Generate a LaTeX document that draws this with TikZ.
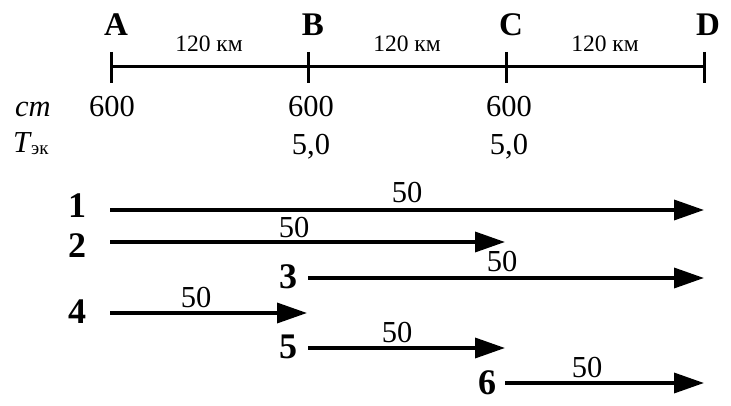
\documentclass[tikz,border=0pt]{standalone}
\usepackage{fontspec}
\setmainfont{Liberation Serif}
\usetikzlibrary{arrows.meta}
\begin{document}
\begin{tikzpicture}[x=1pt,y=-1pt,
  stn/.style={font=\fontsize{33}{33}\selectfont\bfseries, anchor=base, inner sep=0},
  dist/.style={font=\fontsize{23.5}{24}\selectfont, anchor=base, inner sep=0},
  val/.style={font=\fontsize{30.5}{31}\selectfont, anchor=base, inner sep=0},
  num/.style={font=\fontsize{36}{36}\selectfont\bfseries, anchor=base, inner sep=0},
  axisline/.style={line width=3pt},
  train/.style={line width=3.5pt, -{Triangle[length=30pt,width=20pt]}}]
\useasboundingbox (0,0) rectangle (731,406);
% axis
\coordinate (pA) at (111,67);
\coordinate (pB) at (308,67);
\coordinate (pC) at (506,67);
\coordinate (pD) at (704,67);
\draw[axisline] (pA) -- (pD);
\draw[axisline] (111,52) -- (111,83);
\draw[axisline] (308,52) -- (308,83);
\draw[axisline] (506,52) -- (506,83);
\draw[axisline] (704,52) -- (704,83);
% station letters
\node[stn] (lA) at (116,36) {A};
\node[stn] (lB) at (313,36) {B};
\node[stn] (lC) at (511,36) {C};
\node[stn] (lD) at (708,36) {D};
% distances
\node[dist] (d1) at (209,52) {120 км};
\node[dist] (d2) at (407,52) {120 км};
\node[dist] (d3) at (605,52) {120 км};
% rows
\node[val, anchor=base west] (ct) at (15,117) {\itshape ст};
\node[val] (c1) at (112,117) {600};
\node[val] (c2) at (311,117) {600};
\node[val] (c3) at (509,117) {600};
\node[val, anchor=base west] (tek) at (13,153) {\itshape T\kern1pt{\fontsize{19}{19}\selectfont\upshape\raisebox{-2pt}{эк}}};
\node[val] (t2) at (311,155) {5,0};
\node[val] (t3) at (509,155) {5,0};
% trains
\coordinate (s1) at (110,210); \coordinate (e1) at (704,210);
\coordinate (s2) at (110,242); \coordinate (e2) at (505,242);
\coordinate (s3) at (308,278); \coordinate (e3) at (704,278);
\coordinate (s4) at (110,313); \coordinate (e4) at (307,313);
\coordinate (s5) at (308,348); \coordinate (e5) at (505,348);
\coordinate (s6) at (505,383); \coordinate (e6) at (704,383);
\draw[train] (s1) -- (e1);
\draw[train] (s2) -- (e2);
\draw[train] (s3) -- (e3);
\draw[train] (s4) -- (e4);
\draw[train] (s5) -- (e5);
\draw[train] (s6) -- (e6);
\node[num] (n1) at (77,218) {1};
\node[num] (n2) at (77,258) {2};
\node[num] (n3) at (288,288) {3};
\node[num] (n4) at (77,323) {4};
\node[num] (n5) at (288,358) {5};
\node[num] (n6) at (487,394) {6};
\node[val] (v1) at (407,203) {50};
\node[val] (v2) at (294,237) {50};
\node[val] (v3) at (502,272) {50};
\node[val] (v4) at (196,307) {50};
\node[val] (v5) at (397,342) {50};
\node[val] (v6) at (587,377) {50};
\end{tikzpicture}
\end{document}
